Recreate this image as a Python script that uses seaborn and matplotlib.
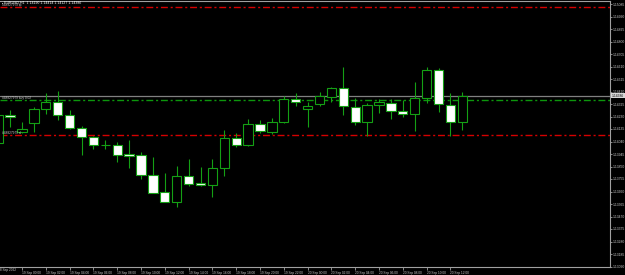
import matplotlib
matplotlib.use("Agg")
import matplotlib.pyplot as plt
import matplotlib.transforms as mtransforms
import seaborn as sns
import pandas as pd

# ---------------- data ----------------
header_text = "EURUSD,H1  1.14190 1.14414 1.14127 1.14386"
first_date_label = "18 Sep 2022"

# hourly bars: 18 Sep 22:00 ... 20 Sep 13:00
opens = [1.14029, 1.14244, 1.14114, 1.14183, 1.14285, 1.14338, 1.14241, 1.14145,
         1.14072, 1.14012, 1.14013, 1.13943, 1.13940, 1.13785, 1.13654, 1.13582,
         1.13776, 1.13727, 1.13712, 1.13836, 1.14067, 1.14013, 1.14173, 1.14116,
         1.14190, 1.14361, 1.14285, 1.14327, 1.14376, 1.14444, 1.14305, 1.14186,
         1.14317, 1.14335, 1.14272, 1.14247, 1.14368, 1.14583, 1.14320, 1.14190]
highs = [1.14264, 1.14279, 1.14190, 1.14300, 1.14411, 1.14424, 1.14279, 1.14158,
         1.14082, 1.14051, 1.14034, 1.14051, 1.13958, 1.13920, 1.13803, 1.13856,
         1.13907, 1.13848, 1.13907, 1.14127, 1.14105, 1.14211, 1.14203, 1.14219,
         1.14386, 1.14406, 1.14338, 1.14416, 1.14456, 1.14608, 1.14368, 1.14335,
         1.14363, 1.14361, 1.14355, 1.14492, 1.14608, 1.14596, 1.14406, 1.14414]
lows = [1.14006, 1.14152, 1.14108, 1.14114, 1.14247, 1.14203, 1.14135, 1.13937,
        1.13981, 1.13983, 1.13882, 1.13841, 1.13753, 1.13646, 1.13578, 1.13544,
        1.13704, 1.13702, 1.13620, 1.13780, 1.14002, 1.14006, 1.14105, 1.14097,
        1.14178, 1.14312, 1.14152, 1.14312, 1.14338, 1.14241, 1.14165, 1.14082,
        1.14254, 1.14209, 1.14224, 1.14122, 1.14330, 1.14266, 1.14082, 1.14127]
closes = [1.14241, 1.14226, 1.14133, 1.14285, 1.14338, 1.14241, 1.14145, 1.14072,
          1.14013, 1.14010, 1.13937, 1.13928, 1.13788, 1.13651, 1.13582, 1.13780,
          1.13715, 1.13707, 1.13836, 1.14067, 1.14013, 1.14173, 1.14120, 1.14192,
          1.14363, 1.14338, 1.14308, 1.14384, 1.14444, 1.14310, 1.14190, 1.14317,
          1.14338, 1.14274, 1.14247, 1.14368, 1.14583, 1.14323, 1.14190, 1.14386]

time_tick_bars = [2, 4, 6, 8, 10, 12, 14, 16, 18, 20, 22, 24, 26, 28, 30, 32, 34, 36, 38]
time_tick_labels = ["19 Sep 00:00", "19 Sep 02:00", "19 Sep 04:00", "19 Sep 06:00",
                    "19 Sep 08:00", "19 Sep 10:00", "19 Sep 12:00", "19 Sep 14:00",
                    "19 Sep 16:00", "19 Sep 18:00", "19 Sep 20:00", "19 Sep 22:00",
                    "20 Sep 00:00", "20 Sep 02:00", "20 Sep 04:00", "20 Sep 06:00",
                    "20 Sep 08:00", "20 Sep 10:00", "20 Sep 12:00"]

price_ticks = [1.15085, 1.14990, 1.14895, 1.14800, 1.14705, 1.14610, 1.14515, 1.14420,
               1.14325, 1.14230, 1.14135, 1.14040, 1.13945, 1.13850, 1.13755, 1.13660,
               1.13565, 1.13470, 1.13375, 1.13280, 1.13185, 1.13090]

tp_level = 1.15060
entry_level = 1.14355
sl_level = 1.14087
bid_level = 1.14386
order_labels = ["#48827979 tp", "#48827979 buy 0.02", "#48827979 sl"]
bid_label = "1.14386"

# ---------------- style ----------------
sns.set_style("dark", rc={"axes.facecolor": "black", "figure.facecolor": "black",
                          "axes.edgecolor": "#a0a0a0", "grid.color": "black"})
plt.rcParams["font.family"] = ["Liberation Sans", "DejaVu Sans"]

GREEN = "#14a014"
LINE_GREEN = "#0c960c"
RED = "#d40000"
GRAY = "#808080"
TXT = "#c8c8c8"

fig = plt.figure(figsize=(6.25, 2.75), dpi=100)
W, H = 625, 275
ax = fig.add_axes([0, (H - 267) / H, 610 / W, 266 / H])

df = pd.DataFrame({"pos": list(range(len(opens))), "open": opens, "high": highs,
                   "low": lows, "close": closes})
df["body_low"] = df[["open", "close"]].min(axis=1)
df["body_h"] = (df["close"] - df["open"]).abs()
order = list(range(len(df)))

# wicks
ax.vlines(df["pos"], df["low"], df["high"], color=GREEN, linewidth=0.8, zorder=1)

bull = df[df["close"] >= df["open"]]
bear = df[df["close"] < df["open"]]
sns.barplot(data=bull, x="pos", y="body_h", order=order, errorbar=None, width=0.78,
            color="black", edgecolor=GREEN, linewidth=0.8, bottom=bull["body_low"].values,
            zorder=2, ax=ax)
sns.barplot(data=bear, x="pos", y="body_h", order=order, errorbar=None, width=0.78,
            color="white", edgecolor=GREEN, linewidth=0.8, bottom=bear["body_low"].values,
            zorder=2, ax=ax)

# level lines
ax.axhline(tp_level, color=RED, linewidth=1.0, dashes=(5, 2, 1.5, 2), zorder=0.8)
ax.axhline(bid_level, color=GRAY, linewidth=0.9, zorder=0.8)
ax.axhline(entry_level, color=LINE_GREEN, linewidth=1.0, dashes=(5, 2, 1.5, 2), zorder=0.8)
ax.axhline(sl_level, color=RED, linewidth=1.0, dashes=(5, 2, 1.5, 2), zorder=0.8)

# axes limits (pixel mapping)
ax.set_xlim(0.151, 51.41)
ax.set_ylim(1.130862, 1.151078)

# y axis on the right
ax.yaxis.tick_right()
ax.set_yticks(price_ticks)
ax.set_yticklabels([f"{v:.5f}" for v in price_ticks])
ax.tick_params(axis="y", which="both", right=True, left=False, length=1.5, width=0.6,
               color="#a0a0a0", labelsize=2.45, labelcolor=TXT, pad=0.5)

# x axis
ax.set_xticks(time_tick_bars)
ax.set_xticklabels(time_tick_labels)
ax.tick_params(axis="x", which="both", bottom=True, length=2, width=0.6,
               color="#a0a0a0", labelsize=2.3, labelcolor=TXT, pad=0.6)
for lbl in ax.get_xticklabels():
    lbl.set_ha("left")
ax.set_xlabel("")
ax.set_ylabel("")
ax.grid(False)

ax.text(0.0, -0.005, first_date_label, fontsize=2.3, color=TXT, ha="left", va="top",
        clip_on=False,
        transform=ax.transAxes + mtransforms.ScaledTranslation(-2 / 100, 0, fig.dpi_scale_trans))

ax.spines["left"].set_visible(False)
for side in ["right", "bottom", "top"]:
    ax.spines[side].set_color("#a0a0a0")
    ax.spines[side].set_linewidth(0.8)

# header
ax.text(0.004, 1 - 2.0 / 266, "\u25aa " + header_text, transform=ax.transAxes,
        fontsize=2.5, color="white", ha="left", va="center")

# order line labels
blend = mtransforms.blended_transform_factory(ax.transAxes, ax.transData)
for lvl, txt in zip([tp_level, entry_level, sl_level], order_labels):
    ax.text(0.003, lvl + 0.00003, txt, transform=blend, fontsize=2.3,
            color=TXT, ha="left", va="bottom")

# current bid label box
ax.text(1.003, bid_level, bid_label, transform=blend, fontsize=2.45, color="black",
        ha="left", va="center", clip_on=False,
        bbox=dict(boxstyle="square,pad=0.15", facecolor="#d8d8d8", edgecolor="none"))

fig.savefig("out.png", dpi=100, facecolor="black")
